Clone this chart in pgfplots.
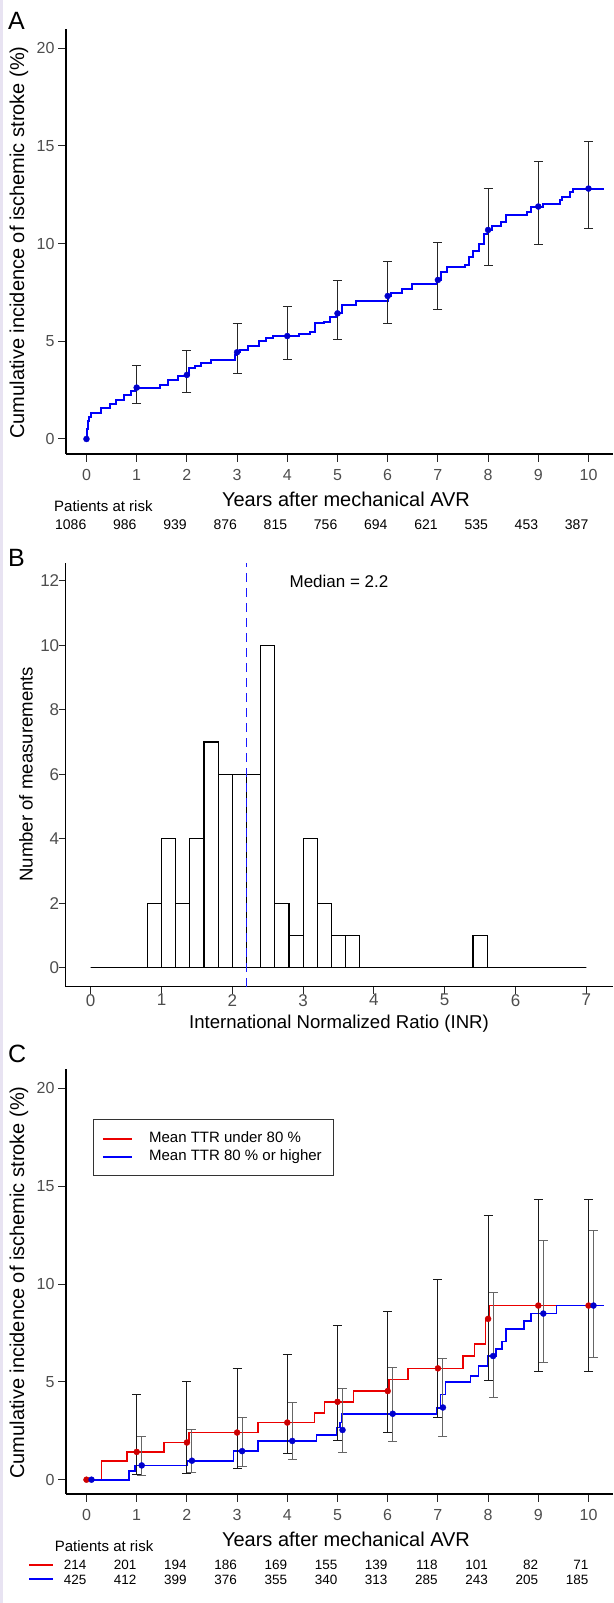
\documentclass[border=0pt]{standalone}
\usepackage{fontspec}
\setmainfont{Liberation Sans}
\usepackage{pgfplots}
\pgfplotsset{compat=1.18}

\definecolor{kmblue}{RGB}{0,0,250}
\definecolor{dotblue}{RGB}{0,0,205}
\definecolor{kmred}{RGB}{235,0,0}
\definecolor{dotred}{RGB}{205,0,0}
\definecolor{tickgray}{RGB}{77,77,77}
\definecolor{lavender}{RGB}{232,227,242}
\definecolor{medblue}{RGB}{25,25,255}

\newcommand{\fs}[1]{\fontsize{#1}{#1}\selectfont}

\pgfplotsset{
  panel/.style={
    scale only axis, anchor=south west,
    axis lines=left,
    axis line style={-, line width=1.5pt, black},
    every outer x axis line/.append style={-},
    every outer y axis line/.append style={-},
    tick align=outside, major tick length=8pt,
    tick style={line width=1pt, black!85},
    tick label style={font=\fs{16}, text=tickgray},
    /pgf/number format/assume math mode=true,
    clip=false,
  },
  ebars/.style={
    /pgfplots/error bars/y dir=both,
    /pgfplots/error bars/y explicit,
    /pgfplots/error bars/error mark=-,
    /pgfplots/error bars/error bar style={line width=0.9pt, #1},
    /pgfplots/error bars/error mark options={rotate=90, line width=0.9pt, mark size=4.5pt, #1},
  },
  dots/.style={only marks, mark=*, mark size=3pt, mark options={draw=#1, fill=#1}},
}

\begin{document}
\begin{tikzpicture}
\path[use as bounding box] (0,0) rectangle (613pt,1603pt);
\fill[lavender] (0,0) rectangle (3pt,1603pt);

% ---------------- Panel A ----------------
\begin{axis}[panel, at={(66pt,1149pt)}, width=547pt, height=425pt,
  xmin=-0.408, xmax=10.488, ymin=-0.768, ymax=20.99,
  xtick={0,1,...,10}, ytick={0,5,10,15,20},
  xticklabel style={yshift=-4pt}]
\addplot[kmblue, line width=2pt, const plot] coordinates {
(0,0) (0.01,0.5) (0.03,0.9) (0.06,1.15) (0.09,1.31) (0.29,1.57) (0.46,1.79)
(0.58,2.0) (0.75,2.25) (0.88,2.45) (0.96,2.63) (1.47,2.76) (1.63,3.02)
(1.82,3.22) (2.0,3.28) (2.04,3.62) (2.17,3.74) (2.29,3.87) (2.48,4.04)
(2.95,4.3) (2.99,4.44) (3.05,4.56) (3.22,4.76) (3.44,5.03) (3.58,5.15)
(3.72,5.27) (4.23,5.36) (4.45,5.49) (4.55,5.92) (4.74,6.0) (4.85,6.26)
(4.99,6.43) (5.09,6.86) (5.36,7.08) (6.0,7.32) (6.06,7.46) (6.29,7.68)
(6.49,7.92) (6.99,8.14) (7.07,8.57) (7.19,8.79) (7.54,8.91) (7.61,9.3)
(7.7,9.6) (7.81,10.0) (7.92,10.5) (8.0,10.7) (8.08,10.9) (8.25,11.13)
(8.35,11.47) (8.78,11.64) (8.86,11.9) (9.09,12.03) (9.44,12.24) (9.48,12.4)
(9.63,12.66) (9.69,12.82) (10.31,12.82)};
\addplot[dots=dotblue, ebars={black!85}] table[x=x, y=y, y error plus=up, y error minus=lo] {
x y up lo
1 2.63 1.12 0.81
2 3.28 1.26 0.91
3 4.44 1.46 1.06
4 5.27 1.54 1.19
5 6.43 1.68 1.33
6 7.32 1.79 1.43
7 8.14 1.90 1.53
8 10.70 2.15 1.83
9 11.90 2.32 1.93
10 12.82 2.41 2.05
};
\addplot[dots=dotblue] coordinates {(0,0)};
\end{axis}

% ---------------- Panel B ----------------
\begin{axis}[panel, at={(65.7pt,616.3pt)}, width=547.3pt, height=423.7pt,
  xmin=-0.353, xmax=7.377, ymin=-0.589, ymax=12.55,
  xtick={0,1,...,7}, ytick={0,2,...,12}, major tick length=7pt,
  tick label style={font=\fs{17}},
  xticklabel style={yshift=3pt}, yticklabel style={xshift=4pt}]
\addplot[ybar interval, fill=white, draw=black, line width=1.2pt] coordinates {
(0.0,0) (0.2,0) (0.4,0) (0.6,0) (0.8,2) (1.0,4) (1.2,2) (1.4,4) (1.6,7)
(1.8,6) (2.0,6) (2.2,6) (2.4,10) (2.6,2) (2.8,1) (3.0,4) (3.2,2) (3.4,1)
(3.6,1) (3.8,0) (4.0,0) (4.2,0) (4.4,0) (4.6,0) (4.8,0) (5.0,0) (5.2,0)
(5.4,1) (5.6,0) (5.8,0) (6.0,0) (6.2,0) (6.4,0) (6.6,0) (6.8,0) (7.0,0)};
\addplot[medblue, line width=1.6pt, dash pattern=on 9pt off 6pt] coordinates {(2.2,-0.589) (2.2,12.55)};
\end{axis}

% ---------------- Panel C ----------------
\begin{axis}[panel, at={(66pt,109pt)}, width=547pt, height=425pt,
  xmin=-0.408, xmax=10.488, ymin=-0.731, ymax=20.99,
  xtick={0,1,...,10}, ytick={0,5,10,15,20},
  xticklabel style={yshift=-4pt},
  legend style={at={(axis description cs:0.0486,0.8816)}, anchor=north west,
    draw=black!80, line width=0.9pt, fill=white, font=\fs{15},
    inner xsep=9pt, inner ysep=10pt, cells={anchor=west}, row sep=0pt,
    /tikz/every odd column/.append style={column sep=14pt},
    nodes={inner sep=2.5pt, text height=10pt, text depth=3pt}},
  legend image code/.code={\draw[#1, line width=1.6pt] (2pt,0pt) -- (31pt,0pt);}]
\addplot[kmred, line width=1.7pt, const plot] coordinates {
(0,0) (0.30,0.97) (0.81,1.42) (1.55,1.90) (2.04,2.41) (3.41,2.92) (4.54,3.42)
(4.74,3.98) (5.32,4.53) (6.02,5.12) (6.41,5.69) (7.50,6.31) (7.73,6.93)
(7.95,8.22) (8.02,8.9) (10.31,8.9)};
\addlegendentry{Mean TTR under 80 \%}
\addplot[kmblue, line width=1.7pt, const plot] coordinates {
(0,0) (0.85,0.46) (0.96,0.73) (2.01,0.97) (2.93,1.47) (3.41,1.98) (4.58,2.29)
(4.98,2.66) (5.05,2.92) (5.09,3.37) (6.97,3.68) (7.05,4.36) (7.15,4.98)
(7.65,5.29) (7.81,5.8) (8.0,6.31) (8.16,6.68) (8.27,7.07) (8.35,7.71)
(8.72,8.12) (8.86,8.49) (9.36,8.9) (10.31,8.9)};
\addlegendentry{Mean TTR 80 \% or higher}
\addplot[forget plot, dots=dotred, ebars={black!90}] table[x=x, y=y, y error plus=up, y error minus=lo] {
x y up lo
1 1.42 2.92 1.15
2 1.90 3.13 1.56
3 2.41 3.27 1.82
4 2.92 3.47 1.58
5 3.98 3.88 1.95
6 4.53 4.06 2.12
7 5.69 4.55 2.49
8 8.22 5.27 3.15
9 8.90 5.43 3.36
10 8.90 5.43 3.36
};
\addplot[forget plot, dots=dotblue, ebars={black!60}] table[x=x, y=y, y error plus=up, y error minus=lo] {
x y up lo
1.1 0.73 1.47 0.49
2.1 0.97 1.59 0.60
3.1 1.46 1.74 0.78
4.1 1.98 1.95 0.96
5.1 2.54 2.12 1.15
6.1 3.37 2.36 1.39
7.1 3.69 2.50 1.47
8.1 6.32 3.24 2.13
9.1 8.49 3.76 2.52
10.1 8.90 3.86 2.63
};
\addplot[forget plot, dots=dotred] coordinates {(0,0)};
\addplot[forget plot, dots=dotblue] coordinates {(0.1,0)};
\end{axis}

% ---------------- Texts ----------------
\tikzset{lbl/.style={inner sep=0pt}}
\node[lbl, anchor=base west, font=\fs{25}] at (8pt,1573pt) {A};
\node[lbl, anchor=base west, font=\fs{25}] at (8pt,1036pt) {B};
\node[lbl, anchor=base west, font=\fs{25}] at (8pt,540pt) {C};

\node[lbl, rotate=90, font=\fs{20}] at (19pt,1360.5pt) {Cumulative incidence of ischemic stroke (\%)};
\node[lbl, anchor=base, font=\fs{20}] at (346pt,1096.5pt) {Years after mechanical AVR};
\node[lbl, anchor=base west, font=\fs{15}] at (54pt,1091.5pt) {Patients at risk};
\foreach \n [count=\i from 0] in {1086,986,939,876,815,756,694,621,535,453,387}
  \node[lbl, anchor=base east, font=\fs{14}] at ({86.5pt+50.2pt*\i},1073pt) {\n};

\node[lbl, rotate=90, font=\fs{18.6}] at (26pt,828.8pt) {Number of measurements};
\node[lbl, anchor=base, font=\fs{18.6}] at (339pt,574.7pt) {International Normalized Ratio (INR)};
\node[lbl, anchor=base, font=\fs{17}] at (339pt,1015.7pt) {Median = 2.2};

\node[lbl, rotate=90, font=\fs{20}] at (19pt,320.5pt) {Cumulative incidence of ischemic stroke (\%)};
\node[lbl, anchor=base, font=\fs{20}] at (346pt,56.5pt) {Years after mechanical AVR};
\node[lbl, anchor=base west, font=\fs{15}] at (54.7pt,51.5pt) {Patients at risk};
\draw[kmred, line width=1.5pt] (29.3pt,38pt) -- (52.8pt,38pt);
\draw[kmblue, line width=1.5pt] (29.3pt,24pt) -- (52.8pt,24pt);
\foreach \n [count=\i from 0] in {214,201,194,186,169,155,139,118,101,82,71}
  \node[lbl, anchor=base east, font=\fs{13.5}] at ({86.5pt+50.2pt*\i},33pt) {\n};
\foreach \n [count=\i from 0] in {425,412,399,376,355,340,313,285,243,205,185}
  \node[lbl, anchor=base east, font=\fs{13.5}] at ({86.5pt+50.2pt*\i},18.7pt) {\n};
\end{tikzpicture}
\end{document}
